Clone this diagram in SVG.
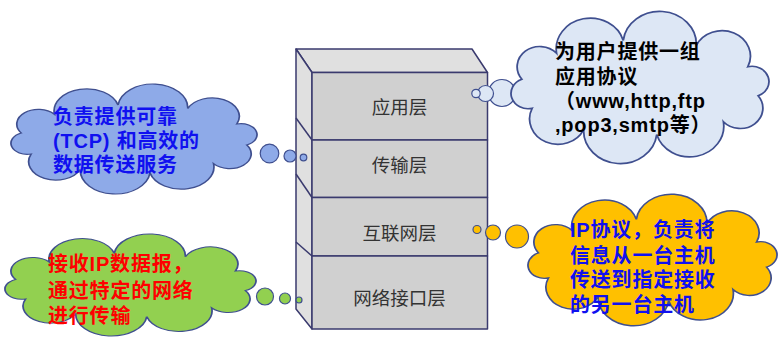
<svg xmlns="http://www.w3.org/2000/svg" width="783" height="346" viewBox="0 0 783 346">
<style>
.face{stroke:#3a3a6e;stroke-width:1.5;stroke-linejoin:round}
.top{fill:#e0e0e0}
.side{fill:#e0e0e0}
.front{fill:#d0d0d0}
.layer{font-family:"Noto Sans CJK SC","Noto Sans CJK JP",sans-serif;font-size:18.5px;fill:#333333;text-anchor:middle}
.cloud{stroke:#3f4f8f;stroke-width:1.3;vector-effect:non-scaling-stroke}
.bub{stroke:#3f4f8f;stroke-width:1.2}
.t{font-family:"Liberation Sans","Noto Sans CJK SC",sans-serif;font-size:20px;font-weight:bold;letter-spacing:0.8px}
.blue{fill:#8eaae8}
.lblue{fill:#dde7f5}
.green{fill:#92d050}
.orange{fill:#ffc000}
</style>
<defs>
<path id="cloudp" d="M184.7,66.6 A16.2,16.2 0 0 1 159.8,87.3 A24.5,24.5 0 0 1 112,97.6 A26.3,26.3 0 0 1 59.6,93.6 A20.3,20.3 0 0 1 22.7,76.6 A12.2,12.2 0 0 1 15.3,53.4 A16.2,16.2 0 0 1 40.2,32.7 A24.5,24.5 0 0 1 88,22.4 A26.3,26.3 0 0 1 140.4,26.4 A20.3,20.3 0 0 1 177.3,43.4 A12.2,12.2 0 0 1 184.7,66.6 Z"/>
</defs>

<g id="stack">
<polygon class="face top" points="296,49 472,49 487.5,72.5 312,72.5"/>
<polygon class="face side" points="296,49 312,72.5 312,329 296,309"/>
<line class="face" x1="296" y1="118" x2="312" y2="140"/>
<line class="face" x1="296" y1="174" x2="312" y2="197.5"/>
<line class="face" x1="296" y1="242" x2="312" y2="256"/>
</g>

<g id="layer-app">
<rect class="face front" x="312" y="72.5" width="175.5" height="67.5"/>
<text class="layer" x="399.5" y="113.5">应用层</text>
</g>
<g id="layer-transport">
<rect class="face front" x="312" y="140" width="175.5" height="57.5"/>
<text class="layer" x="399.5" y="171.5">传输层</text>
</g>
<g id="layer-internet">
<rect class="face front" x="312" y="197.5" width="175.5" height="58.5"/>
<text class="layer" x="399.5" y="239.5">互联网层</text>
</g>
<g id="layer-link">
<rect class="face front" x="312" y="256" width="175.5" height="73"/>
<text class="layer" x="399.5" y="304.5">网络接口层</text>
</g>

<g id="connectors">
<circle class="bub blue" cx="269.5" cy="153.5" r="9.3"/>
<circle class="bub blue" cx="290" cy="156" r="6"/>
<circle class="bub blue" cx="303.5" cy="157.5" r="3.3"/>
<circle class="bub lblue" cx="502" cy="93" r="13.5"/>
<circle class="bub lblue" cx="485.5" cy="93.5" r="8"/>
<circle class="bub lblue" cx="476" cy="93.5" r="4.2"/>
<circle class="bub orange" cx="477" cy="229.5" r="4"/>
<circle class="bub orange" cx="493" cy="232.5" r="7.5"/>
<circle class="bub orange" cx="517" cy="236.5" r="11.5"/>
<circle class="bub green" cx="265" cy="296.5" r="8.5"/>
<circle class="bub green" cx="285" cy="298.5" r="5.5"/>
<circle class="bub green" cx="299" cy="300" r="3"/>
</g>

<g id="cloud-transport">
<use href="#cloudp" class="cloud blue" transform="translate(0.95,84.72) scale(1.3305,0.9047)"/>
<text class="t" fill="#1010f0" x="53" y="124">负责提供可靠</text>
<text class="t" fill="#1010f0" x="53" y="148">(TCP) 和高效的</text>
<text class="t" fill="#1010f0" x="53" y="172">数据传送服务</text>
</g>

<g id="cloud-app">
<use href="#cloudp" class="cloud lblue" transform="translate(500.52,12.38) scale(1.3948,1.252)"/>
<text class="t" fill="#000000" x="555" y="59">为用户提供一组</text>
<text class="t" fill="#000000" x="555" y="84">应用协议</text>
<text class="t" fill="#000000" x="555" y="108">（www,http,ftp</text>
<text class="t" fill="#000000" x="555" y="132">,pop3,smtp等）</text>
</g>

<g id="cloud-link">
<use href="#cloudp" class="cloud green" transform="translate(-5.23,234.6) scale(1.3573,0.84)"/>
<text class="t" fill="#ff0000" x="48" y="271">接收IP数据报，</text>
<text class="t" fill="#ff0000" x="48" y="298">通过特定的网络</text>
<text class="t" fill="#ff0000" x="48" y="323">进行传输</text>
</g>

<g id="cloud-internet">
<use href="#cloudp" class="cloud orange" transform="translate(517.84,195.06) scale(1.3466,1.0824)"/>
<text class="t" fill="#1010f0" x="570" y="237">IP协议，负责将</text>
<text class="t" fill="#1010f0" x="570" y="263">信息从一台主机</text>
<text class="t" fill="#1010f0" x="570" y="287">传送到指定接收</text>
<text class="t" fill="#1010f0" x="570" y="312">的另一台主机</text>
</g>
</svg>
